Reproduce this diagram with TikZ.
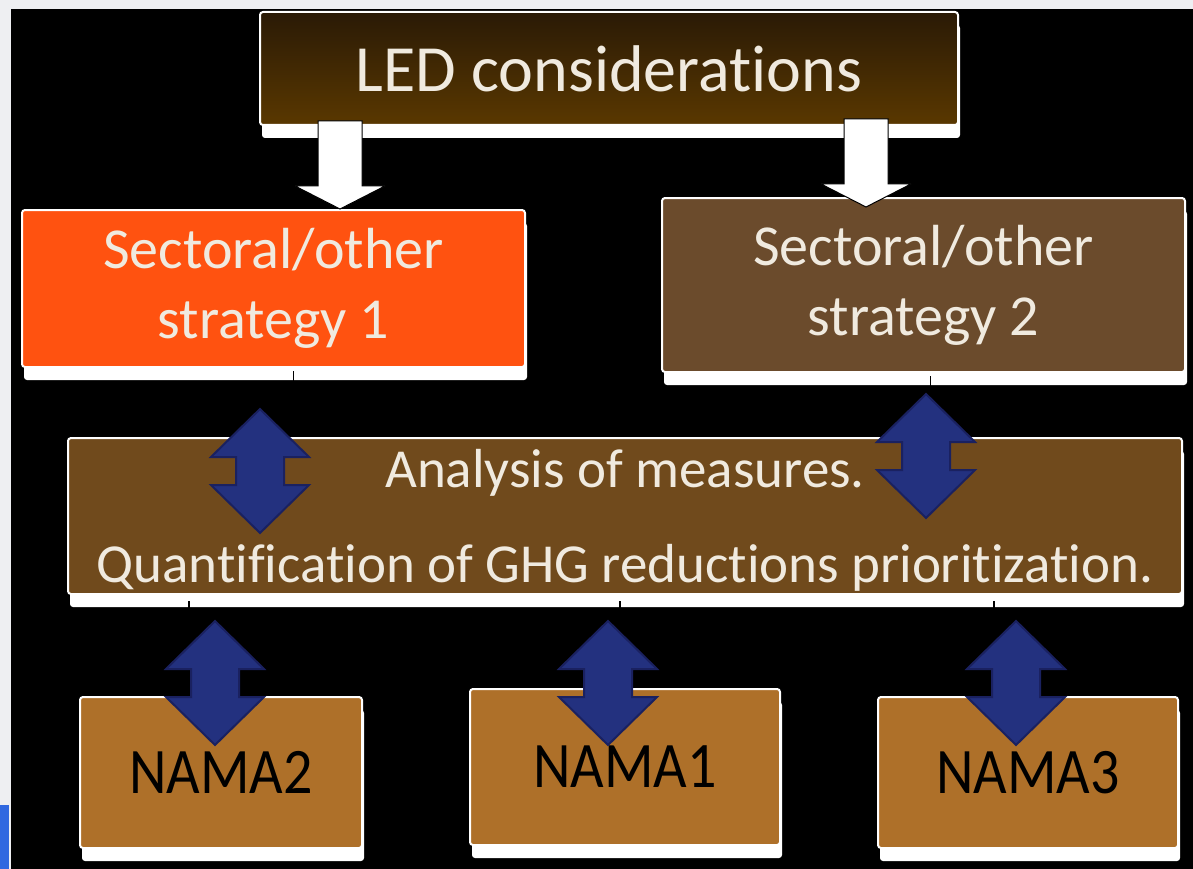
\documentclass[tikz,border=0pt]{standalone}
\usepackage{fontspec}
\setmainfont[Ligatures=NoCommon]{Carlito}
\usepackage{tikz}
\usetikzlibrary{shadows}
\definecolor{ledtop}{HTML}{2A1A06}
\definecolor{ledbot}{HTML}{5A3800}
\definecolor{orangebox}{HTML}{FF5210}
\definecolor{stratbox}{HTML}{6B4B2C}
\definecolor{anabox}{HTML}{704A1C}
\definecolor{namabox}{HTML}{AE7029}
\definecolor{cream}{HTML}{F0EADF}
\definecolor{navy}{HTML}{23317F}
\definecolor{navyedge}{HTML}{1A2160}
\definecolor{edgegrey}{HTML}{EEEFF2}
\definecolor{winblue}{HTML}{3068E0}
\newcommand{\tallnama}[1]{\scalebox{1}[1.12]{#1}}
\tikzset{
  box/.style={draw=white, line width=2pt, rounded corners=3pt, inner sep=0pt,
    align=center, text=cream,
    drop shadow={shadow xshift=2pt, shadow yshift=-13pt, fill=white, opacity=1}},
  stratnode/.style={box, font={\fontsize{58pt}{70pt}\selectfont}},
  namanode/.style={box, fill=namabox, text=black, font={\fontsize{58pt}{60pt}\selectfont}},
  tick/.style={black, line width=1.2pt},
  updown/.pic={
    \draw[fill=navy, draw=navyedge, line width=2pt, line join=miter]
      (0,-62) -- (49,-14) -- (24,-14) -- (24,14) -- (49,14) -- (0,62)
      -- (-49,14) -- (-24,14) -- (-24,-14) -- (-49,-14) -- cycle;
  },
  downarr/.pic={
    \draw[fill=white, draw=black, line width=1pt]
      (-22,0) -- (22,0) -- (22,65) -- (45,65) -- (0,88) -- (-45,65)
      -- (-22,65) -- cycle;
  }
}
\begin{document}
\begin{tikzpicture}[x=1pt,y=-1pt]
\useasboundingbox (0,0) rectangle (1193,869);
\fill[black] (0,0) rectangle (1193,869);
\fill[edgegrey] (0,0) rectangle (1193,9);
\fill[edgegrey] (0,0) rectangle (11,869);
\fill[winblue] (0,805) rectangle (9,869);

\node[box, top color=ledtop, bottom color=ledbot, minimum width=698pt, minimum height=113pt,
  font={\fontsize{66pt}{70pt}\selectfont}] (led) at (609,68.5) {LED considerations};
\node[stratnode, fill=orangebox, minimum width=503pt, minimum height=157pt] (s1) at (273.5,288.5)
  {Sectoral/other\\strategy 1};
\node[stratnode, fill=stratbox, minimum width=523pt, minimum height=174pt] (s2) at (923.5,285)
  {Sectoral/other\\strategy 2};
\node[box, fill=anabox, minimum width=1114pt, minimum height=156pt, text depth=0pt,
  font={\fontsize{55pt}{95pt}\selectfont}] (ana) at (625,516)
  {Analysis of measures.\\Quantification of GHG reductions prioritization.};
\node[namanode, minimum width=282pt, minimum height=151pt] (n2) at (221,772.5) {\tallnama{NAMA2}};
\node[namanode, minimum width=310pt, minimum height=156pt] (n1) at (625,767) {\tallnama{NAMA1}};
\node[namanode, minimum width=300pt, minimum height=151pt] (n3) at (1028,772.5) {\tallnama{NAMA3}};

\pic at (340,121) {downarr};
\pic at (866,119) {downarr};

\draw[tick] ([xshift=20pt,yshift=-3pt]s1.south) -- ++(0,10);
\draw[tick] ([xshift=7pt,yshift=-3pt]s2.south) -- ++(0,10);
\draw[tick] ([xshift=-436pt,yshift=-6pt]ana.south) -- ++(0,10);
\draw[tick] ([xshift=-5pt,yshift=-6pt]ana.south) -- ++(0,10);
\draw[tick] ([xshift=369pt,yshift=-6pt]ana.south) -- ++(0,10);

\pic at (260,471) {updown};
\pic at (926,456) {updown};
\pic at (215,683) {updown};
\pic at (608,683) {updown};
\pic at (1016,683) {updown};
\end{tikzpicture}
\end{document}
